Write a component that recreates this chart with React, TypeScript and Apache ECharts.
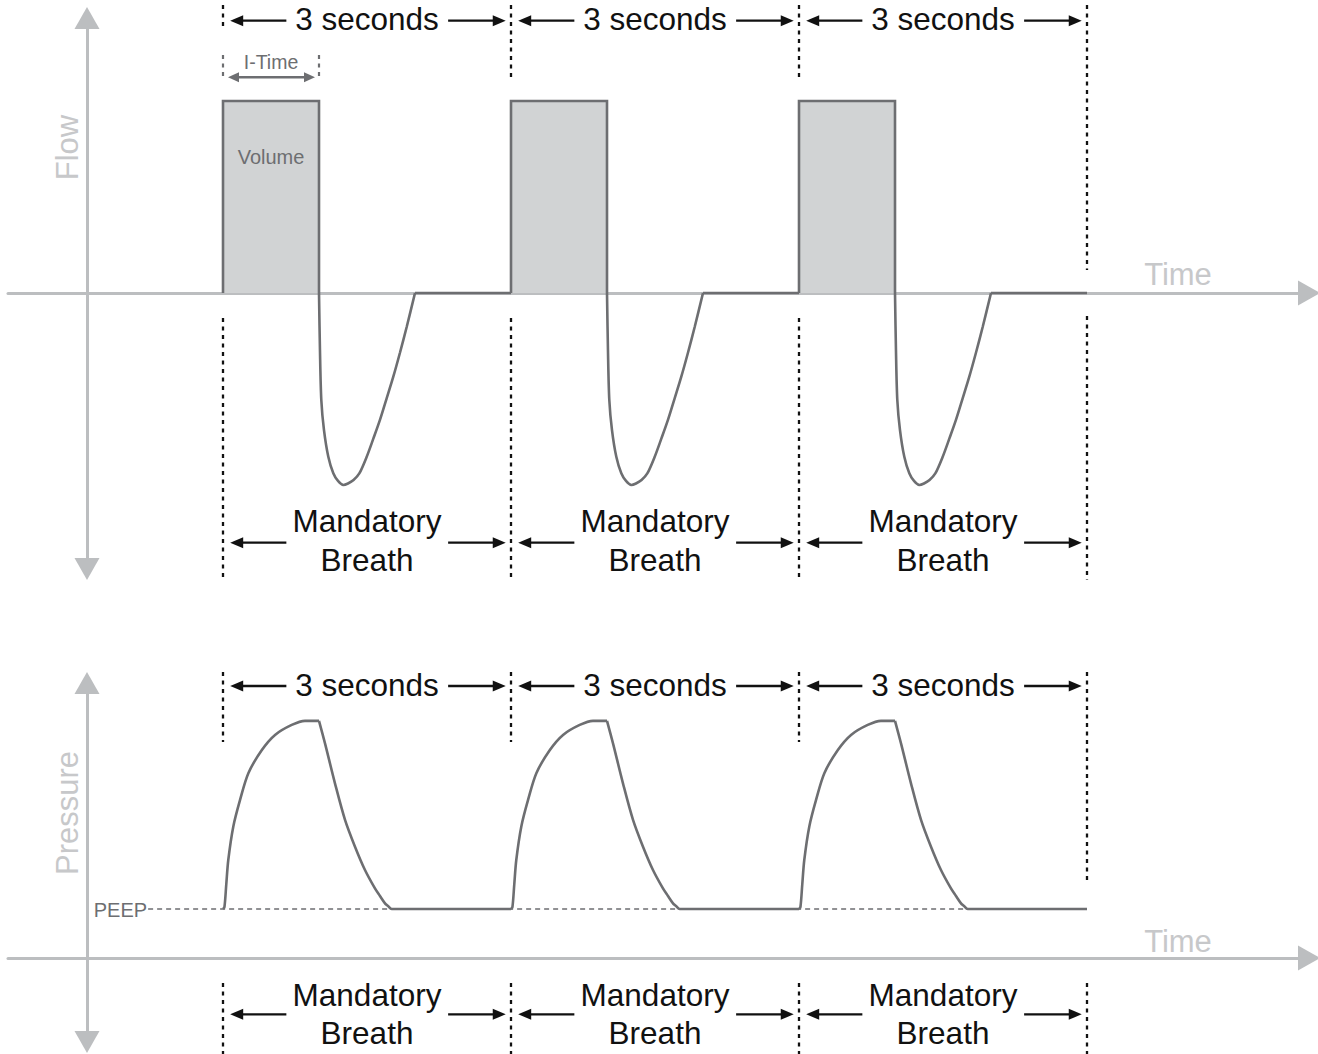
import React, { useEffect, useRef } from "react";
import * as echarts from "echarts";

// ---------------- Data ----------------
const breathStarts = [0, 3, 6]; // s – start of each mandatory breath
const breathBoundaries = [0, 3, 6, 9]; // s – dotted separators
const breathPeriod = 3; // s
const inspiratoryTime = 1; // s (I-Time)
const flowPeak = 1; // relative inspiratory flow
const expiryEnd = 2; // s – expiratory flow back to zero
const peepLevel = 5; // relative pressure (PEEP)
const peepLineStart = -0.78; // s – where the PEEP reference line begins
const peepLineEnd = 9; // s

// Expiratory flow of one breath (time since breath start, relative flow)
const flowExpT = [1, 1.01, 1.024, 1.052, 1.097, 1.149, 1.198, 1.253, 1.302, 1.36, 1.42, 1.497, 1.565, 1.635, 1.704, 1.774, 1.844, 1.914, 2.0];
const flowExpV = [0, -0.297, -0.557, -0.714, -0.853, -0.939, -0.979, -1.0, -0.992, -0.974, -0.94, -0.853, -0.76, -0.661, -0.55, -0.436, -0.31, -0.176, 0];

// Pressure of one breath: inspiratory rise + plateau, then expiratory fall
const pressureInspT = [0, 0.015, 0.034, 0.055, 0.107, 0.177, 0.264, 0.403, 0.542, 0.716, 0.854, 1.0];
const pressureInspV = [5, 5.2, 7.5, 10.0, 13.4, 16.1, 18.85, 21.2, 22.76, 23.78, 24.2, 24.2];
const pressureExpT = [1.0, 1.0625, 1.167, 1.271, 1.375, 1.479, 1.583, 1.635, 1.6875, 1.719, 1.757, 3.0];
const pressureExpV = [24.2, 21.9, 17.8, 14.1, 11.36, 8.98, 7.1, 6.33, 5.58, 5.31, 5.0, 5];

// Texts
const spanTopLabel = "3 seconds";
const spanBottomLabel = ["Mandatory", "Breath"];
const flowAxisName = "Flow";
const pressureAxisName = "Pressure";
const timeAxisName = "Time";
const volumeLabel = "Volume";
const iTimeLabel = "I-Time";
const peepLabel = "PEEP";

// ---------------- Layout / style ----------------
const FONT = '"Liberation Sans", Arial, Helvetica, sans-serif';
const AXIS_COLOR = "#bcbec0";
const NAME_COLOR = "#c7c8ca";
const LINE_COLOR = "#6d6e71";
const FILL_COLOR = "#d1d3d4";
const INK = "#111111";

const X_MIN = -2.2396;
const X_MAX = 11.3125;

const flowDottedRanges = [
  [[5, 30], [318, 580]],
  [[5, 78], [318, 580]],
  [[5, 78], [318, 580]],
  [[5, 270], [316, 580]],
];
const pressureDottedRanges = [
  [[672, 742], [983, 1054]],
  [[672, 742], [983, 1054]],
  [[672, 742], [983, 1054]],
  [[672, 884], [983, 1054]],
];

type Pt = (number[] | null)[];

function repeatSegments(segments: [number[], number[]][]): Pt {
  const out: Pt = [];
  breathStarts.forEach((b) => {
    segments.forEach(([ts, vs]) => {
      ts.forEach((t, i) => out.push([b + t, vs[i]]));
      out.push(null);
    });
  });
  return out;
}

function txt(x: number, y: number, text: string, size: number, color: string, align = "center", rotation = 0) {
  return {
    type: "text",
    x,
    y,
    rotation,
    silent: true,
    style: {
      text,
      fontSize: size,
      fontFamily: FONT,
      fill: color,
      align,
      verticalAlign: "middle",
      textAlign: align,
      textVerticalAlign: "middle",
    },
  };
}

function arrowHead(tipX: number, y: number, dir: number, color: string, L = 13, H = 5.5) {
  return {
    type: "polygon",
    shape: { points: [[tipX, y], [tipX - dir * L, y - H], [tipX - dir * L, y + H]] },
    style: { fill: color },
  };
}

function hLine(x1: number, x2: number, y: number, color: string, w = 2.3) {
  return { type: "line", shape: { x1, y1: y, x2, y2: y }, style: { stroke: color, lineWidth: w } };
}

function spanArrows(px: (d: number) => number, y: number) {
  const lt = px(0.075);
  const le = px(0.66);
  const rs = px(2.345);
  const rt = px(2.945);
  return [
    hLine(lt + 10, le, y, INK),
    arrowHead(lt, y, -1, INK),
    hLine(rs, rt - 10, y, INK),
    arrowHead(rt, y, 1, INK),
  ];
}

function dottedRenderer(ranges: number[][][]) {
  return (params: any, api: any) => {
    const x = api.coord([api.value(0), 0])[0];
    const segs = ranges[params.dataIndex] || [];
    return {
      type: "group",
      children: segs.map(([y1, y2]) => ({
        type: "line",
        shape: { x1: x, y1, x2: x, y2 },
        style: { stroke: INK, lineWidth: 2.3, lineDash: [4, 4.5] },
      })),
    };
  };
}

function spanRenderer(arrowTopY: number, topTextY: number, arrowBottomY: number, bottomTextYs: number[]) {
  return (params: any, api: any) => {
    const b = api.value(0);
    const px = (d: number) => api.coord([b + d, 0])[0];
    const mid = px(breathPeriod / 2);
    const children: any[] = [
      ...spanArrows(px, arrowTopY),
      txt(mid, topTextY, spanTopLabel, 31.5, INK),
      ...spanArrows(px, arrowBottomY),
      txt(mid, bottomTextYs[0], spanBottomLabel[0], 31.5, INK),
      txt(mid, bottomTextYs[1], spanBottomLabel[1], 31.5, INK),
    ];
    return { type: "group", children };
  };
}

function buildOption() {
  // straight parts of the flow: square inspiration + zero-flow pause
  const flowStraight = repeatSegments([
    [[0, 0, inspiratoryTime, inspiratoryTime], [0, flowPeak, flowPeak, 0]],
    [[expiryEnd, breathPeriod], [0, 0]],
  ]);
  const flowCurve = repeatSegments([[flowExpT, flowExpV]]);
  const pressureData = repeatSegments([
    [pressureInspT, pressureInspV],
    [pressureExpT, pressureExpV],
  ]);

  const axisLine = (symbol: string[]) => ({
    show: true,
    onZero: false,
    symbol,
    symbolSize: [25, 22],
    lineStyle: { color: AXIS_COLOR, width: 3 },
  });
  const hidden = { axisTick: { show: false }, axisLabel: { show: false }, splitLine: { show: false } };

  return {
    animation: false,
    backgroundColor: "#ffffff",
    grid: [
      { left: 8, width: 1301, top: 18, height: 551 },
      { left: 8, width: 1301, top: 683, height: 359 },
    ],
    xAxis: [0, 1].map((gi) => ({
      type: "value",
      gridIndex: gi,
      min: X_MIN,
      max: X_MAX,
      axisLine: { ...axisLine(["none", "triangle"]), onZero: true },
      ...hidden,
    })),
    yAxis: [
      {
        type: "value",
        gridIndex: 0,
        min: -1.4375,
        max: 1.4323,
        position: "left",
        offset: -79,
        axisLine: axisLine(["triangle", "triangle"]),
        ...hidden,
      },
      {
        type: "value",
        gridIndex: 1,
        min: -8.571,
        max: 28.06,
        position: "left",
        offset: -79,
        axisLine: axisLine(["triangle", "triangle"]),
        ...hidden,
      },
    ],
    graphic: [
      txt(67.5, 147.5, flowAxisName, 31, NAME_COLOR, "center", Math.PI / 2),
      txt(1178, 274.5, timeAxisName, 31, NAME_COLOR),
      txt(67.5, 813, pressureAxisName, 31, NAME_COLOR, "center", Math.PI / 2),
      txt(1178, 941.5, timeAxisName, 31, NAME_COLOR),
    ],
    series: [
      {
        type: "line",
        name: "Flow",
        xAxisIndex: 0,
        yAxisIndex: 0,
        data: flowStraight,
        connectNulls: false,
        showSymbol: false,
        silent: true,
        z: 3,
        lineStyle: { color: LINE_COLOR, width: 2.6, join: "miter" },
        markArea: {
          silent: true,
          itemStyle: { color: FILL_COLOR },
          data: breathStarts.map((b) => [{ coord: [b, 0] }, { coord: [b + inspiratoryTime, flowPeak] }]),
        },
      },
      {
        type: "line",
        name: "Expiratory flow",
        xAxisIndex: 0,
        yAxisIndex: 0,
        data: flowCurve,
        connectNulls: false,
        smooth: 0.3,
        showSymbol: false,
        silent: true,
        z: 3,
        lineStyle: { color: LINE_COLOR, width: 2.6 },
      },
      {
        type: "custom",
        name: "flowBoundaries",
        xAxisIndex: 0,
        yAxisIndex: 0,
        silent: true,
        z: 5,
        data: breathBoundaries.map((t) => [t, 0]),
        renderItem: dottedRenderer(flowDottedRanges),
      },
      {
        type: "custom",
        name: "flowSpans",
        xAxisIndex: 0,
        yAxisIndex: 0,
        silent: true,
        z: 5,
        data: breathStarts.map((t) => [t, 0]),
        renderItem: spanRenderer(20.7, 19, 542.7, [521, 560]),
      },
      {
        type: "custom",
        name: "iTime",
        xAxisIndex: 0,
        yAxisIndex: 0,
        silent: true,
        z: 5,
        data: [[breathStarts[0], 0]],
        renderItem: (params: any, api: any) => {
          const b = api.value(0);
          const x0 = api.coord([b, 0])[0];
          const x1 = api.coord([b + inspiratoryTime, 0])[0];
          const xm = api.coord([b + inspiratoryTime / 2, 0])[0];
          const yVol = api.coord([b, flowPeak * 0.708])[1];
          const y = 77.3;
          return {
            type: "group",
            children: [
              { type: "line", shape: { x1: x0, y1: 55, x2: x0, y2: 79 }, style: { stroke: LINE_COLOR, lineWidth: 2.2, lineDash: [4, 4.5] } },
              { type: "line", shape: { x1: x1, y1: 55, x2: x1, y2: 79 }, style: { stroke: LINE_COLOR, lineWidth: 2.2, lineDash: [4, 4.5] } },
              hLine(x0 + 12, x1 - 11, y, LINE_COLOR, 2.6),
              arrowHead(x0 + 5, y, -1, LINE_COLOR, 11, 5),
              arrowHead(x1 - 4, y, 1, LINE_COLOR, 11, 5),
              txt(xm, 62, iTimeLabel, 19.5, LINE_COLOR),
              txt(xm, yVol, volumeLabel, 20, LINE_COLOR),
            ],
          };
        },
      },
      {
        type: "line",
        name: "PEEP",
        xAxisIndex: 1,
        yAxisIndex: 1,
        data: [[peepLineStart, peepLevel], [peepLineEnd, peepLevel]],
        showSymbol: false,
        silent: true,
        z: 2,
        lineStyle: { color: LINE_COLOR, width: 1.6, type: [5, 4] },
      },
      {
        type: "line",
        name: "Pressure",
        xAxisIndex: 1,
        yAxisIndex: 1,
        data: pressureData,
        connectNulls: false,
        smooth: 0.3,
        showSymbol: false,
        silent: true,
        z: 3,
        lineStyle: { color: LINE_COLOR, width: 2.6 },
      },
      {
        type: "custom",
        name: "pressureBoundaries",
        xAxisIndex: 1,
        yAxisIndex: 1,
        silent: true,
        z: 5,
        data: breathBoundaries.map((t) => [t, 0]),
        renderItem: dottedRenderer(pressureDottedRanges),
      },
      {
        type: "custom",
        name: "pressureSpans",
        xAxisIndex: 1,
        yAxisIndex: 1,
        silent: true,
        z: 5,
        data: breathStarts.map((t) => [t, 0]),
        renderItem: spanRenderer(686, 685, 1014.3, [995, 1033]),
      },
      {
        type: "custom",
        name: "peepLabel",
        xAxisIndex: 1,
        yAxisIndex: 1,
        silent: true,
        z: 5,
        data: [[peepLineStart, peepLevel]],
        renderItem: (params: any, api: any) => {
          const p = api.coord([api.value(0), api.value(1)]);
          return txt(p[0] - 1, p[1] + 1, peepLabel, 20, LINE_COLOR, "right");
        },
      },
    ],
  };
}

export default function App() {
  const ref = useRef<HTMLDivElement>(null);
  useEffect(() => {
    document.body.style.margin = "0";
    const chart = echarts.init(ref.current!, null, { renderer: "svg" });
    chart.setOption(buildOption() as any);
    return () => chart.dispose();
  }, []);
  return (
    <div
      ref={ref}
      style={{ width: 1318, height: 1054, position: "absolute", left: 0, top: 0 }}
    />
  );
}
